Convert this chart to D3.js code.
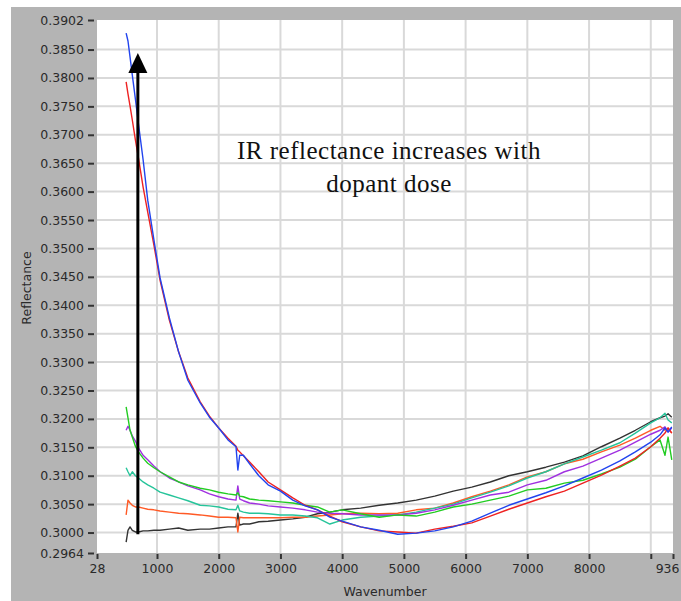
<!DOCTYPE html>
<html>
<head>
<meta charset="utf-8">
<script src="https://cdn.jsdelivr.net/npm/d3@7"></script>
<style>
  html, body { margin: 0; padding: 0; background: #ffffff; }
  svg { display: block; }
</style>
</head>
<body>
<svg id="chart" width="681" height="601"></svg>
<script>
// ---------- DATA ----------
const wavenumber = [500, 530, 563, 600, 650, 700, 775, 850, 950, 1050, 1200, 1350, 1500, 1700, 1850, 2000, 2150, 2280, 2310, 2340, 2400, 2500, 2650, 2800, 3000, 3200, 3400, 3600, 3800, 4000, 4300, 4600, 4900, 5200, 5500, 5800, 6100, 6400, 6700, 7000, 7300, 7600, 7900, 8200, 8500, 8750, 9000, 9150, 9230, 9280, 9340];

const blueSeries = [0.3879, 0.3865, 0.3837, 0.3805, 0.3763, 0.3719, 0.3656, 0.3585, 0.3515, 0.3448, 0.3378, 0.3318, 0.3268, 0.3228, 0.3203, 0.3184, 0.3163, 0.3151, 0.3110, 0.3136, 0.3136, 0.3121, 0.3100, 0.3084, 0.3073, 0.3057, 0.3047, 0.3040, 0.3027, 0.3020, 0.3010, 0.3004, 0.2997, 0.2999, 0.3003, 0.3010, 0.3020, 0.3034, 0.3048, 0.3059, 0.3070, 0.3082, 0.3096, 0.3110, 0.3126, 0.3142, 0.3159, 0.3172, 0.3184, 0.3177, 0.3186];
const redSeries = [0.3793, 0.3772, 0.3751, 0.3726, 0.3691, 0.3659, 0.3608, 0.3564, 0.3506, 0.3444, 0.3374, 0.3318, 0.3272, 0.3230, 0.3205, 0.3184, 0.3166, 0.3152, 0.3145, 0.3142, 0.3135, 0.3124, 0.3107, 0.3089, 0.3075, 0.3061, 0.3048, 0.3040, 0.3029, 0.3019, 0.3010, 0.3003, 0.3001, 0.2999, 0.3006, 0.3011, 0.3017, 0.3029, 0.3041, 0.3052, 0.3063, 0.3073, 0.3087, 0.3101, 0.3117, 0.3131, 0.3151, 0.3166, 0.3175, 0.3184, 0.3175];
const greenSeries = [0.3221, 0.3202, 0.3180, 0.3168, 0.3152, 0.3142, 0.3131, 0.3122, 0.3114, 0.3107, 0.3098, 0.3089, 0.3084, 0.3078, 0.3075, 0.3071, 0.3068, 0.3066, 0.3070, 0.3064, 0.3063, 0.3059, 0.3057, 0.3056, 0.3054, 0.3052, 0.3048, 0.3045, 0.3036, 0.3040, 0.3033, 0.3027, 0.3031, 0.3029, 0.3036, 0.3045, 0.3050, 0.3057, 0.3064, 0.3075, 0.3078, 0.3087, 0.3092, 0.3103, 0.3115, 0.3129, 0.3151, 0.3163, 0.3136, 0.3168, 0.3128];
const purpleSeries = [0.3180, 0.3187, 0.3180, 0.3170, 0.3161, 0.3149, 0.3136, 0.3128, 0.3117, 0.3107, 0.3096, 0.3089, 0.3082, 0.3075, 0.3068, 0.3063, 0.3059, 0.3057, 0.3082, 0.3059, 0.3056, 0.3052, 0.3050, 0.3047, 0.3045, 0.3043, 0.3040, 0.3036, 0.3034, 0.3033, 0.3031, 0.3031, 0.3031, 0.3034, 0.3040, 0.3048, 0.3057, 0.3066, 0.3071, 0.3084, 0.3092, 0.3107, 0.3117, 0.3131, 0.3145, 0.3159, 0.3173, 0.3180, 0.3186, 0.3177, 0.3184];
const tealSeries = [0.3114, 0.3107, 0.3100, 0.3107, 0.3100, 0.3096, 0.3089, 0.3084, 0.3078, 0.3071, 0.3066, 0.3061, 0.3056, 0.3048, 0.3047, 0.3045, 0.3041, 0.3040, 0.3048, 0.3038, 0.3036, 0.3034, 0.3034, 0.3033, 0.3031, 0.3031, 0.3029, 0.3026, 0.3015, 0.3022, 0.3027, 0.3029, 0.3031, 0.3036, 0.3043, 0.3050, 0.3061, 0.3071, 0.3082, 0.3096, 0.3107, 0.3121, 0.3133, 0.3145, 0.3158, 0.3175, 0.3193, 0.3202, 0.3210, 0.3198, 0.3193];
const orangeSeries = [0.3031, 0.3057, 0.3052, 0.3048, 0.3045, 0.3045, 0.3043, 0.3041, 0.3040, 0.3038, 0.3036, 0.3034, 0.3033, 0.3031, 0.3029, 0.3027, 0.3027, 0.3026, 0.3001, 0.3027, 0.3026, 0.3026, 0.3026, 0.3026, 0.3026, 0.3027, 0.3027, 0.3029, 0.3031, 0.3033, 0.3034, 0.3033, 0.3034, 0.3040, 0.3043, 0.3052, 0.3063, 0.3073, 0.3084, 0.3098, 0.3107, 0.3121, 0.3129, 0.3142, 0.3154, 0.3166, 0.3180, 0.3187, 0.3180, 0.3184, 0.3175];
const blackSeries = [0.2983, 0.3004, 0.3010, 0.3004, 0.3001, 0.3001, 0.3003, 0.3003, 0.3004, 0.3004, 0.3006, 0.3008, 0.3004, 0.3006, 0.3006, 0.3008, 0.3010, 0.3010, 0.3034, 0.3013, 0.3015, 0.3015, 0.3019, 0.3020, 0.3022, 0.3024, 0.3027, 0.3033, 0.3036, 0.3040, 0.3043, 0.3048, 0.3052, 0.3057, 0.3064, 0.3073, 0.3080, 0.3089, 0.3100, 0.3107, 0.3115, 0.3124, 0.3135, 0.3151, 0.3166, 0.3180, 0.3195, 0.3202, 0.3205, 0.3209, 0.3203];

const seriesNames = ["black", "orange", "teal", "purple", "green", "red", "blue"];
const seriesValues = [blackSeries, orangeSeries, tealSeries, purpleSeries, greenSeries, redSeries, blueSeries];
const seriesColors = ["#333333", "#ff5a26", "#26c49a", "#a030e0", "#22cc22", "#ee2222", "#2244ee"];

const yTickValues = [0.2964, 0.3000, 0.3050, 0.3100, 0.3150, 0.3200, 0.3250, 0.3300, 0.3350, 0.3400, 0.3450, 0.3500, 0.3550, 0.3600, 0.3650, 0.3700, 0.3750, 0.3800, 0.3850, 0.3902];
const xTickValues = [28, 1000, 2000, 3000, 4000, 5000, 6000, 7000, 8000, 9000, 9360];
const xTickLabels = ["28", "1000", "2000", "3000", "4000", "5000", "6000", "7000", "8000", "", "936"];
const xGridValues = [1000, 2000, 3000, 4000, 5000, 6000, 7000, 8000, 9000];
const yGridValues = [0.3000, 0.3050, 0.3100, 0.3150, 0.3200, 0.3250, 0.3300, 0.3350, 0.3400, 0.3450, 0.3500, 0.3550, 0.3600, 0.3650, 0.3700, 0.3750, 0.3800, 0.3850];

const annotationLines = ["IR reflectance increases with", "dopant dose"];
const arrowWavenumber = 690;
const arrowFrom = 0.2997;
const arrowTo = 0.3844;

// ---------- LAYOUT ----------
const svg = d3.select("#chart");
const plot = { left: 97, right: 673, top: 20, bottom: 553 };

const x = d3.scaleLinear().domain([28, 9360]).range([plot.left, plot.right]);
const y = d3.scaleLinear().domain([0.2964, 0.3902]).range([plot.bottom, plot.top]);

// grey panel
svg.append("rect").attr("x", 11).attr("y", 7).attr("width", 670).attr("height", 594).attr("fill", "#b4b4b4");
// plot area
svg.append("rect").attr("x", plot.left).attr("y", plot.top)
  .attr("width", plot.right - plot.left).attr("height", plot.bottom - plot.top).attr("fill", "#ffffff");

// grid
const grid = svg.append("g");
grid.selectAll("line.v").data(xGridValues).enter().append("line")
  .attr("x1", d => x(d)).attr("x2", d => x(d)).attr("y1", plot.top).attr("y2", plot.bottom)
  .attr("stroke", "#d9d9d9").attr("stroke-width", 2);
grid.selectAll("line.h").data(yGridValues).enter().append("line")
  .attr("x1", plot.left).attr("x2", plot.right).attr("y1", d => y(d)).attr("y2", d => y(d))
  .attr("stroke", "#d9d9d9").attr("stroke-width", 2);

// axes
const font = "'DejaVu Sans', Verdana, sans-serif";
const yAxis = d3.axisLeft(y).tickValues(yTickValues).tickFormat(d3.format(".4f")).tickSize(6).tickPadding(4);
const gy = svg.append("g").attr("transform", `translate(${plot.left - 3},0)`).call(yAxis);
gy.select(".domain").remove();
gy.selectAll(".tick line").attr("stroke", "#333").attr("stroke-width", 2);
gy.selectAll(".tick text").attr("fill", "#2a2a2a").style("font-family", font).style("font-size", "12.5px");

const xAxis = d3.axisBottom(x).tickValues(xTickValues).tickFormat((d, i) => xTickLabels[i]).tickSize(5).tickPadding(5);
const gx = svg.append("g").attr("transform", `translate(0,${plot.bottom + 1})`).call(xAxis);
gx.select(".domain").remove();
gx.selectAll(".tick line").attr("stroke", "#333").attr("stroke-width", 2);
gx.selectAll(".tick text").attr("fill", "#2a2a2a").style("font-family", font).style("font-size", "12.5px");
// last label sits flush with the panel edge, as in the reference
gx.selectAll(".tick text").filter((d, i) => i === xTickValues.length - 1)
  .attr("text-anchor", "end").attr("x", 679 - x(9360));

// axis titles
svg.append("text").attr("x", 385).attr("y", 596).attr("text-anchor", "middle")
  .style("font-family", font).style("font-size", "12.5px").attr("fill", "#2a2a2a").text("Wavenumber");
svg.append("text").attr("transform", "translate(31,288) rotate(-90)").attr("text-anchor", "middle")
  .style("font-family", font).style("font-size", "12.5px").attr("fill", "#2a2a2a").text("Reflectance");

// series
const line = d3.line().x((d, i) => x(wavenumber[i])).y(d => y(d));
const clip = svg.append("clipPath").attr("id", "clip").append("rect")
  .attr("x", plot.left).attr("y", plot.top).attr("width", plot.right - plot.left).attr("height", plot.bottom - plot.top);
svg.append("g").attr("clip-path", "url(#clip)")
  .selectAll("path").data(seriesValues).enter().append("path")
  .attr("d", d => line(d)).attr("fill", "none")
  .attr("stroke", (d, i) => seriesColors[i]).attr("stroke-width", 1.4).attr("stroke-linejoin", "round");

// arrow
const ax = x(arrowWavenumber);
const tipY = y(arrowTo);
svg.append("line").attr("x1", ax).attr("x2", ax).attr("y1", y(arrowFrom)).attr("y2", tipY + 18)
  .attr("stroke", "#000").attr("stroke-width", 3);
svg.append("path")
  .attr("d", `M${ax},${tipY} L${ax - 9.5},${tipY + 20} L${ax + 9.5},${tipY + 20} Z`).attr("fill", "#000");

// annotation
const ann = svg.append("text").attr("text-anchor", "middle")
  .style("font-family", "'Liberation Serif', 'Times New Roman', serif").style("font-size", "25px")
  .style("letter-spacing", "0.5px").attr("fill", "#111");
annotationLines.forEach((t, i) => {
  ann.append("tspan").attr("x", 389).attr("y", 159 + i * 33).text(t);
});
</script>
</body>
</html>
